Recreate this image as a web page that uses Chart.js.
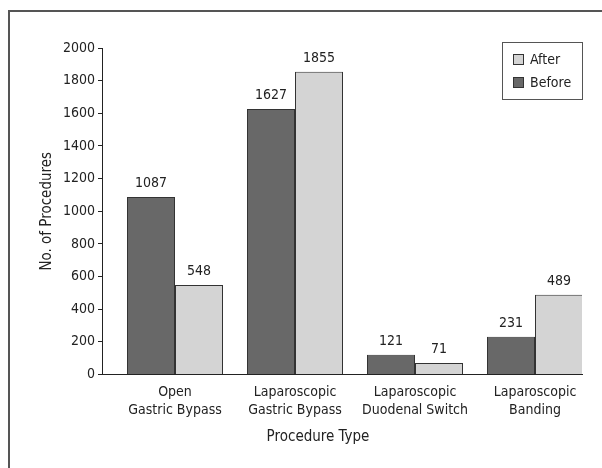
<!DOCTYPE html>
<html>
<head>
<meta charset="utf-8">
<script src="https://cdn.jsdelivr.net/npm/chart.js@4"></script>
<style>
  html, body { margin: 0; padding: 0; background: #fff; }
  #wrap { position: relative; width: 602px; height: 468px; overflow: hidden; }
  #frame {
    position: absolute; left: 8px; top: 10px; width: 700px; height: 600px;
    border-left: 2px solid #555; border-top: 2px solid #555;
  }
  canvas { position: absolute; left: 0; top: 0; }
</style>
</head>
<body>
<div id="wrap">
  <div id="frame"></div>
  <canvas id="chart" width="602" height="468"></canvas>
</div>
<script>
(function() {
    'use strict';

    const categories = [
        ['Open', 'Gastric Bypass'],
        ['Laparoscopic', 'Gastric Bypass'],
        ['Laparoscopic', 'Duodenal Switch'],
        ['Laparoscopic', 'Banding'],
    ];
    const beforeValues = [1087, 1627, 121, 231];
    const afterValues = [548, 1855, 71, 489];
    const yTicks = [0, 200, 400, 600, 800, 1000, 1200, 1400, 1600, 1800, 2000];
    const xTitle = 'Procedure Type';
    const yTitle = 'No. of Procedures';

    const FONT = '"Liberation Sans Narrow", "DejaVu Sans Condensed", "Arial Narrow", Arial, sans-serif';
    const TEXT = '#222';

    function toPoints(values) {
        return values.map((v, i) => ({ x: i, y: v }));
    }

    // value labels above each bar
    const barLabels = {
        id: 'barLabels',
        afterDatasetsDraw(chart) {
            const ctx = chart.ctx;
            ctx.save();
            ctx.font = '14px ' + FONT;
            ctx.fillStyle = TEXT;
            ctx.textAlign = 'center';
            ctx.textBaseline = 'alphabetic';
            chart.data.datasets.forEach((ds, di) => {
                chart.getDatasetMeta(di).data.forEach((bar, i) => {
                    ctx.fillText(String(ds.data[i].y), bar.x, bar.y - 10);
                });
            });
            ctx.restore();
        },
    };

    // x axis title sits a bit left of the axis centre in the original
    const xTitleText = {
        id: 'xTitleText',
        afterDraw(chart) {
            const ctx = chart.ctx;
            ctx.save();
            ctx.font = '15px ' + FONT;
            ctx.fillStyle = TEXT;
            ctx.textAlign = 'center';
            ctx.textBaseline = 'middle';
            ctx.fillText(xTitle, 318, 437);
            ctx.restore();
        },
    };

    // boxed legend in the upper right, After listed first
    const boxLegend = {
        id: 'boxLegend',
        afterDraw(chart) {
            const ctx = chart.ctx;
            const x0 = 502, y0 = 42, w = 80, h = 57;
            ctx.save();
            ctx.fillStyle = '#fff';
            ctx.fillRect(x0, y0, w, h);
            ctx.strokeStyle = '#555';
            ctx.lineWidth = 1;
            ctx.strokeRect(x0 + 0.5, y0 + 0.5, w, h);
            ctx.font = '14px ' + FONT;
            ctx.textBaseline = 'middle';
            const order = chart.data.datasets.slice().reverse();
            order.forEach((ds, i) => {
                const cy = 59 + i * 23;
                ctx.fillStyle = ds.backgroundColor;
                ctx.fillRect(513, cy - 5, 11, 11);
                ctx.strokeStyle = '#333';
                ctx.strokeRect(513.5, cy - 4.5, 10, 10);
                ctx.fillStyle = TEXT;
                ctx.fillText(ds.label, 530, cy + 1);
            });
            ctx.restore();
        },
    };

    function initChart() {
        const canvas = document.getElementById('chart');
        Chart.defaults.font.family = FONT;
        Chart.defaults.font.size = 14;
        Chart.defaults.color = TEXT;

        new Chart(canvas, {
            type: 'bar',
            data: {
                datasets: [
                    {
                        label: 'Before',
                        data: toPoints(beforeValues),
                        backgroundColor: '#686868',
                        borderColor: '#333',
                        borderWidth: 1,
                    },
                    {
                        label: 'After',
                        data: toPoints(afterValues),
                        backgroundColor: '#d4d4d4',
                        borderColor: '#333',
                        borderWidth: 1,
                    },
                ],
            },
            options: {
                responsive: false,
                animation: false,
                categoryPercentage: 0.8,
                barPercentage: 1.0,
                layout: { padding: { top: 48, right: 20, bottom: 0, left: 0 } },
                plugins: {
                    legend: { display: false },
                    tooltip: { enabled: false },
                },
                scales: {
                    x: {
                        type: 'linear',
                        offset: false,
                        min: -0.5 - 13 / 120,
                        max: 3.5 - 13 / 120,
                        afterBuildTicks: scale => {
                            scale.ticks = categories.map((c, i) => ({ value: i }));
                        },
                        afterFit: scale => { scale.height = 93.5; },
                        grid: { display: false, drawTicks: false },
                        border: { display: true, color: '#222', width: 1 },
                        ticks: {
                            padding: 8,
                            maxRotation: 0,
                            autoSkip: false,
                            font: { size: 14, lineHeight: 1.35 },
                            callback: value => categories[value] || '',
                        },
                    },
                    y: {
                        min: 0,
                        max: 2000,
                        afterBuildTicks: scale => {
                            scale.ticks = yTicks.map(v => ({ value: v }));
                        },
                        afterFit: scale => { scale.width = 102; },
                        grid: {
                            drawOnChartArea: false,
                            drawTicks: true,
                            tickLength: 4,
                            color: '#222',
                        },
                        border: { display: true, color: '#222', width: 1 },
                        ticks: {
                            padding: 3,
                            font: { size: 14 },
                            callback: value => String(value),
                        },
                        title: {
                            display: true,
                            text: yTitle,
                            font: { size: 15 },
                            padding: { top: 38, bottom: 0 },
                        },
                    },
                },
            },
            plugins: [barLabels, xTitleText, boxLegend],
        });
    }

    if (document.readyState === 'loading') {
        document.addEventListener('DOMContentLoaded', initChart);
    } else {
        initChart();
    }
})();
</script>
</body>
</html>
